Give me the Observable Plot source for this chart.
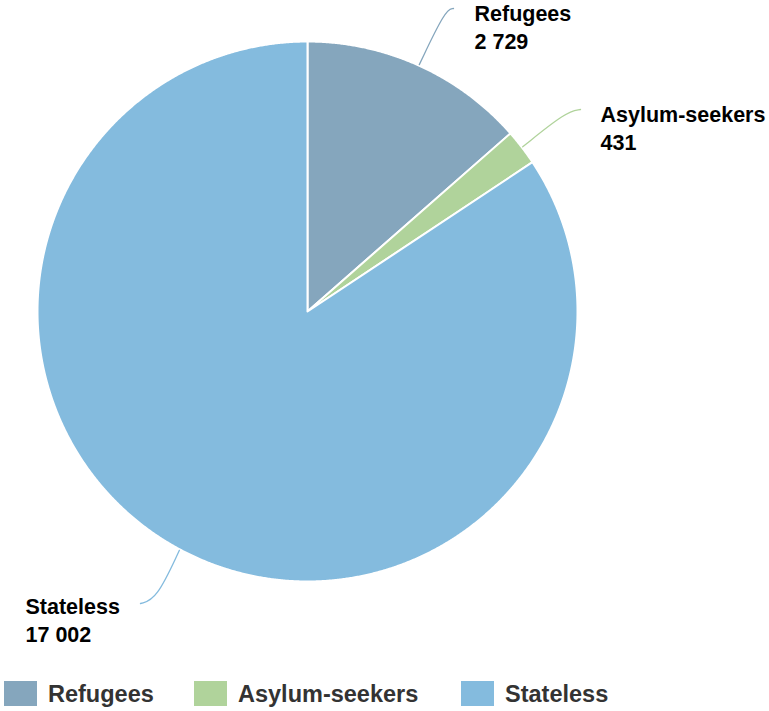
<!DOCTYPE html>
<html>
<head>
<meta charset="utf-8">
<script src="https://cdn.jsdelivr.net/npm/d3@7"></script>
<script src="https://cdn.jsdelivr.net/npm/@observablehq/plot@0.6"></script>
<style>
  body { margin: 0; background: #fff; font-family: "Liberation Sans", Arial, sans-serif; }
  #legend { position: relative; height: 41px; }
  .item { position: absolute; top: 11px; display: flex; align-items: center; }
  .sw { width: 33px; height: 25px; margin-right: 11px; }
  .lt { font-weight: bold; font-size: 23.5px; color: #333; line-height: 25px; position: relative; top: 1px; }
</style>
</head>
<body>
<div id="chart"></div>
<div id="legend"></div>
<script>
// ---- data ----
const categories = ["Refugees", "Asylum-seekers", "Stateless"];
const values = [2729, 431, 17002];
const colors = ["#85a6bd", "#b0d39b", "#84bbde"];

// ---- layout ----
const W = 769, H = 670;
const cx = 307, cy = 311, R = 270;
const labelLayout = [
  {end: [453, 8], knee: [445, 9], tx: 474, ty: 14},
  {end: [580, 109], knee: [566, 111], tx: 600, ty: 115},
  {end: [140, 603], knee: [156, 599], tx: 25, ty: 607}
];
const legendX = [4, 194, 461];

const fmt = d3.formatLocale({decimal: ".", thousands: " ", grouping: [3], currency: ["", ""]}).format(",d");

const pie = d3.pie().sort(null).value(d => d)(values);
const pt = (a, r) => [cx + r * Math.sin(a), cy - r * Math.cos(a)];

const slicePts = [];
pie.forEach((p, i) => {
  const cat = categories[i];
  slicePts.push({cat, x: cx, y: cy});
  const n = Math.max(2, Math.ceil((p.endAngle - p.startAngle) / (Math.PI / 720)));
  for (let k = 0; k <= n; k++) {
    const a = p.startAngle + (p.endAngle - p.startAngle) * k / n;
    const [x, y] = pt(a, R);
    slicePts.push({cat, x, y});
  }
  slicePts.push({cat, x: cx, y: cy});
});

const connPts = [];
pie.forEach((p, i) => {
  const cat = categories[i];
  const mid = (p.startAngle + p.endAngle) / 2;
  const [sx, sy] = pt(mid, R + 1);
  const L = labelLayout[i];
  connPts.push({cat, x: sx, y: sy});
  connPts.push({cat, x: L.knee[0], y: L.knee[1]});
  connPts.push({cat, x: L.end[0], y: L.end[1]});
});

const labels = categories.map((c, i) => ({
  cat: c, name: c, val: fmt(values[i]), x: labelLayout[i].tx, y: labelLayout[i].ty
}));

const chart = Plot.plot({
  width: W, height: H,
  marginTop: 0, marginRight: 0, marginBottom: 0, marginLeft: 0,
  x: {domain: [0, W], axis: null},
  y: {domain: [0, H], reverse: true, axis: null},
  color: {domain: categories, range: colors},
  style: {fontFamily: '"Liberation Sans", Arial, sans-serif', background: "#fff"},
  marks: [
    Plot.line(slicePts, {x: "x", y: "y", z: "cat", fill: "cat", stroke: "#fff", strokeWidth: 2, strokeLinejoin: "round", curve: "linear"}),
    Plot.line(connPts, {x: "x", y: "y", z: "cat", stroke: "cat", strokeWidth: 1.3, curve: "basis"}),
    Plot.text(labels, {x: "x", y: "y", text: "name", textAnchor: "start", lineAnchor: "middle", fontSize: 21.5, fontWeight: "bold", fill: "#000"}),
    Plot.text(labels, {x: "x", y: d => d.y + 28, text: "val", textAnchor: "start", lineAnchor: "middle", fontSize: 21.5, fontWeight: "bold", fill: "#000"})
  ]
});
document.getElementById("chart").appendChild(chart);

const leg = document.getElementById("legend");
categories.forEach((c, i) => {
  const it = document.createElement("div");
  it.className = "item";
  it.style.left = legendX[i] + "px";
  const sw = document.createElement("div");
  sw.className = "sw";
  sw.style.background = colors[i];
  const t = document.createElement("span");
  t.className = "lt";
  t.textContent = c;
  it.appendChild(sw); it.appendChild(t);
  leg.appendChild(it);
});
</script>
</body>
</html>
